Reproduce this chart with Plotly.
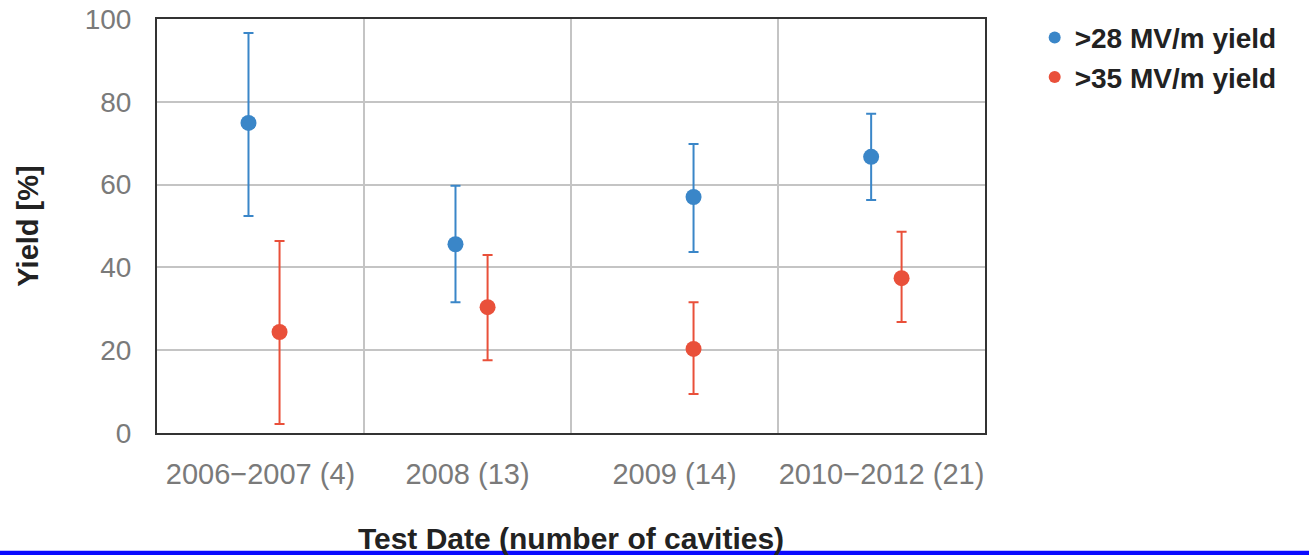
import plotly.graph_objects as go

categories = ["2006\u22122007 (4)", "2008 (13)", "2009 (14)", "2010\u22122012 (21)"]
cat_index = [0, 1, 2, 3]

# >28 MV/m yield
blue_x = [-0.058, 0.942, 2.092, 2.95]
blue_y = [74.9, 45.6, 57.0, 66.7]
blue_hi = [96.6, 59.7, 69.8, 77.1]
blue_lo = [52.4, 31.6, 43.7, 56.3]

# >35 MV/m yield
red_x = [0.092, 1.097, 2.092, 3.097]
red_y = [24.4, 30.4, 20.3, 37.4]
red_hi = [46.4, 43.0, 31.6, 48.6]
red_lo = [2.2, 17.6, 9.4, 26.8]

y_ticks = [0, 20, 40, 60, 80, 100]
names = [">28 MV/m yield", ">35 MV/m yield"]

BLUE = "#3a86c8"
RED = "#e9503a"
FONT = "Liberation Sans, Arial, sans-serif"

fig = go.Figure()

for xs, ys, hi, lo, col in [(blue_x, blue_y, blue_hi, blue_lo, BLUE),
                            (red_x, red_y, red_hi, red_lo, RED)]:
    fig.add_trace(go.Scatter(
        x=xs, y=ys, mode="markers", showlegend=False,
        marker=dict(color=col, size=16),
        error_y=dict(type="data", symmetric=False,
                     array=[h - v for h, v in zip(hi, ys)],
                     arrayminus=[v - l for v, l in zip(ys, lo)],
                     color=col, thickness=2, width=5),
    ))

for nm, col in zip(names, [BLUE, RED]):
    fig.add_trace(go.Scatter(x=[None], y=[None], mode="markers", name=nm,
                             marker=dict(color=col, size=13)))

fig.update_layout(
    width=1309, height=555,
    margin=dict(l=157, r=324, t=19, b=122, autoexpand=False),
    plot_bgcolor="white", paper_bgcolor="white",
    font=dict(family=FONT),
    legend=dict(x=1.06, y=1.015, xanchor="left", yanchor="top",
                font=dict(family=FONT, size=28, color="#222", weight="bold"),
                itemsizing="constant", tracegroupgap=0),
    xaxis=dict(
        range=[-0.5, 3.5], tickmode="array", tickvals=cat_index, ticktext=categories,
        showgrid=False, zeroline=False, automargin=False,
        tickfont=dict(size=29, color="#7a7a7a"), ticklabelstandoff=14,
        showline=True, linecolor="#333", linewidth=2, mirror=True,
        minor=dict(tickmode="array", tickvals=[0.5, 1.5, 2.5], showgrid=True,
                   gridcolor="#c4c4c4", gridwidth=1.5, ticks=""),
        title=dict(text="<b>Test Date (number of cavities)</b>", standoff=40,
                   font=dict(size=30, color="#222")),
    ),
    yaxis=dict(
        range=[0, 100], tickmode="array", tickvals=y_ticks,
        showgrid=True, gridcolor="#c4c4c4", gridwidth=1.5, zeroline=False,
        automargin=False,
        tickfont=dict(size=28, color="#7a7a7a"), ticklabelstandoff=18,
        showline=True, linecolor="#333", linewidth=2, mirror=True,
        title=dict(text="<b>Yield [%]</b>", standoff=38,
                   font=dict(family=FONT, size=29, color="#222")),
    ),
)

fig.add_shape(type="rect", xref="paper", yref="paper",
              x0=-0.2, x1=1.4, y0=-0.2947, y1=-0.2843,
              fillcolor="#0a0aff", line=dict(width=0), layer="above")

fig.write_html("out.html")
